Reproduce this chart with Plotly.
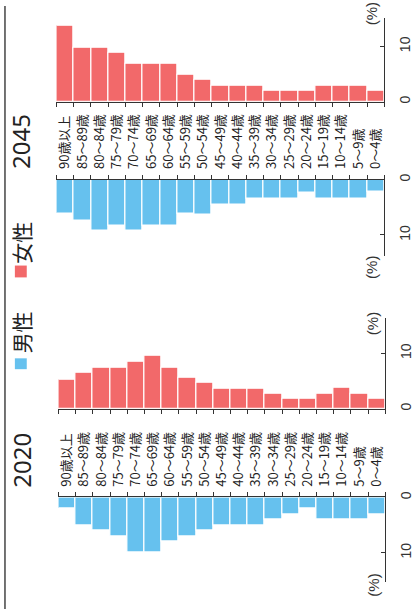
import plotly.graph_objects as go

ages = ["90歳以上", "85～89歳", "80～84歳", "75～79歳", "70～74歳", "65～69歳",
        "60～64歳", "55～59歳", "50～54歳", "45～49歳", "40～44歳", "35～39歳",
        "30～34歳", "25～29歳", "20～24歳", "15～19歳", "10～14歳", "5～9歳", "0～4歳"]
male_2020 = [2.0, 5.0, 6.0, 7.0, 10.0, 10.0, 8.0, 7.0, 6.0, 5.0, 5.0, 5.0, 4.0, 3.0, 2.0, 4.0, 4.0, 4.0, 3.0]
female_2020 = [5.3, 6.5, 7.4, 7.4, 8.4, 9.5, 7.4, 5.5, 4.6, 3.6, 3.6, 3.6, 2.7, 1.8, 1.8, 2.7, 3.8, 2.7, 1.8]
male_2045 = [6.2, 7.4, 9.3, 8.4, 9.3, 8.4, 8.4, 6.2, 6.4, 4.6, 4.6, 3.4, 3.4, 3.4, 2.4, 3.4, 3.4, 3.4, 2.2]
female_2045 = [13.7, 9.7, 9.7, 8.8, 6.8, 6.9, 6.9, 4.9, 3.9, 2.9, 2.9, 2.9, 1.9, 1.9, 1.9, 2.9, 2.9, 2.9, 2.0]
years = ["2020", "2045"]
legend_names = ["男性", "女性"]
value_ticks = [0, 10]

W, H = 414, 611
BLUE = "#66C1EE"
RED = "#F2696A"
AX = "#333333"
CJK = "Noto Sans CJK JP"
PX_PER = 5.6


def xp(px):
    return px / W


def yp(py):
    return 1 - py / H


fig = go.Figure()

# (xaxis id, yaxis id, data, color, x px range, y px top, y px bottom, is_male)
panels = [
    ("x", "y", female_2045, RED, (55, 386), 12, 97, False),
    ("x2", "y2", male_2045, BLUE, (55, 386), 176, 253, True),
    ("x3", "y3", female_2020, RED, (57, 387), 316, 408, False),
    ("x4", "y4", male_2020, BLUE, (57, 387), 498, 584, True),
]

for xa, ya, vals, col, (xl, xr), top, bot, male in panels:
    fig.add_trace(go.Bar(x=ages, y=vals, xaxis=xa, yaxis=ya,
                         marker=dict(color=col, line=dict(color="white", width=1.2)),
                         showlegend=False, hoverinfo="x+y"))
    xkey = "xaxis" + xa[1:]
    ykey = "yaxis" + ya[1:]
    span = (bot - top) / PX_PER
    fig.layout[xkey] = dict(
        domain=[xp(xl), xp(xr)], anchor=ya, type="category",
        categoryorder="array", categoryarray=ages,
        side="top" if male else "bottom",
        showline=True, linecolor=AX, linewidth=1.2,
        ticks="outside", tickson="boundaries", ticklen=4, tickcolor=AX,
        showticklabels=male, tickangle=-90, ticklabelstandoff=7,
        tickfont=dict(family=CJK, size=13, color="#222222"),
        showgrid=False, zeroline=False, fixedrange=True,
    )
    fig.layout[ykey] = dict(
        domain=[yp(bot), yp(top)], anchor=xa, side="right",
        range=[span, 0] if male else [0, span],
        showline=True, linecolor=AX, linewidth=1.2,
        ticks="inside", ticklen=4, tickcolor=AX,
        tickvals=value_ticks, tickangle=-90, ticklabelstandoff=8,
        tickfont=dict(family="Liberation Sans", size=14, color="#333333"),
        showgrid=False, zeroline=False, fixedrange=True,
    )

annotations = []
# "(%)" unit labels
for (cx, cy) in [(373, 8), (373, 265), (374, 322), (375, 587)]:
    annotations.append(dict(x=xp(cx), y=yp(cy), xref="paper", yref="paper",
                            text="(%)", showarrow=False, textangle=-90,
                            font=dict(family="Liberation Sans", size=15, color="#333333"),
                            xanchor="center", yanchor="middle"))
# year titles
for yr, (cx, cy) in zip(years, [(20, 460), (18, 137)]):
    annotations.append(dict(x=xp(cx), y=yp(cy), xref="paper", yref="paper",
                            text=yr, showarrow=False, textangle=-90,
                            font=dict(family="Noto Sans", size=24, color="#222222"),
                            xanchor="center", yanchor="middle"))
# legend text
for name, (cx, cy) in zip(legend_names, [(19, 331), (19, 240)]):
    annotations.append(dict(x=xp(cx), y=yp(cy), xref="paper", yref="paper",
                            text=name, showarrow=False, textangle=-90,
                            font=dict(family=CJK, size=21, color="#222222"),
                            xanchor="center", yanchor="middle"))

shapes = [
    dict(type="rect", xref="paper", yref="paper", x0=xp(13), x1=xp(25), y0=yp(368), y1=yp(357),
         fillcolor=BLUE, line=dict(width=0)),
    dict(type="rect", xref="paper", yref="paper", x0=xp(13), x1=xp(25), y0=yp(275), y1=yp(263),
         fillcolor=RED, line=dict(width=0)),
    dict(type="line", xref="paper", yref="paper", x0=xp(3), x1=xp(3), y0=0, y1=1,
         line=dict(color="#444444", width=1.5)),
]

fig.update_layout(width=W, height=H, margin=dict(l=0, r=0, t=0, b=0),
                  paper_bgcolor="white", plot_bgcolor="white",
                  bargap=0, annotations=annotations, shapes=shapes,
                  showlegend=False)

fig.write_html("out.html", config={"displayModeBar": False})
